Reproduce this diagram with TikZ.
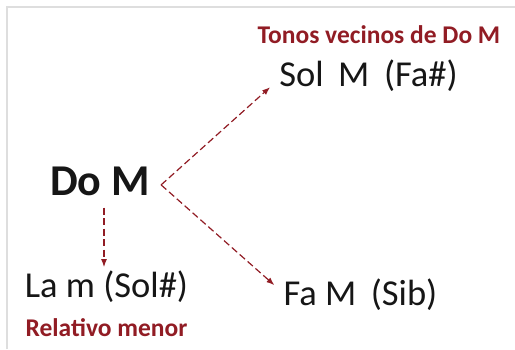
\documentclass[tikz,border=0pt]{standalone}
\usepackage{fontspec}
\setmainfont{Carlito}
\usepackage{tikz}
\usetikzlibrary{arrows.meta,positioning}
\usepackage{xcolor}
\definecolor{kyred}{RGB}{145,28,36}
\definecolor{kyink}{RGB}{22,22,22}
\definecolor{kyframe}{RGB}{222,222,222}
\newcommand{\kgap}{\hspace{0.4em}}
\tikzset{
  keynode/.style={inner sep=0pt,anchor=base,text=kyink,font=\fontsize{36.5}{42}\selectfont},
  tonicnode/.style={inner sep=0pt,anchor=base,text=kyink,font=\fontsize{44}{50}\selectfont\bfseries},
  notenode/.style={inner sep=0pt,anchor=base,text=kyred,font=\fontsize{25.5}{30}\selectfont\bfseries},
  keyarrow/.style={-{Latex[length=8pt,width=6pt]},line width=1.2pt,draw=kyred,
    dash pattern=on 7pt off 3.5pt}
}

\begin{document}
\begin{tikzpicture}[x=1pt,y=-1pt]
  \useasboundingbox (0,0) rectangle (515,349);
  \draw[kyframe,line width=2pt] (7,349) -- (7,7) -- (515,7);
  \node[notenode] (tonos) at (379,43) {Tonos vecinos de Do M};
  \node[keynode] (sol) at (368.5,86) {Sol\kgap M\kgap (Fa\#)};
  \node[tonicnode] (dom) at (100,195) {Do M};
  \node[keynode] (lam) at (106.5,297) {La m (Sol\#)};
  \node[notenode] (rel) at (106.5,336) {Relativo menor};
  \node[keynode] (fam) at (360.5,305) {Fa M\kgap (Sib)};
  \draw[keyarrow] ([xshift=11pt,yshift=-4pt]dom.east) -- ([shift={(-9,12)}]sol.west);
  \draw[keyarrow] ([xshift=11pt,yshift=-4pt]dom.east) -- ([shift={(-9,-9)}]fam.west);
  \draw[keyarrow] ([xshift=4pt,yshift=-12pt]dom.south) -- ([xshift=4pt,yshift=3pt]lam.north -| dom.south);
\end{tikzpicture}
\end{document}
